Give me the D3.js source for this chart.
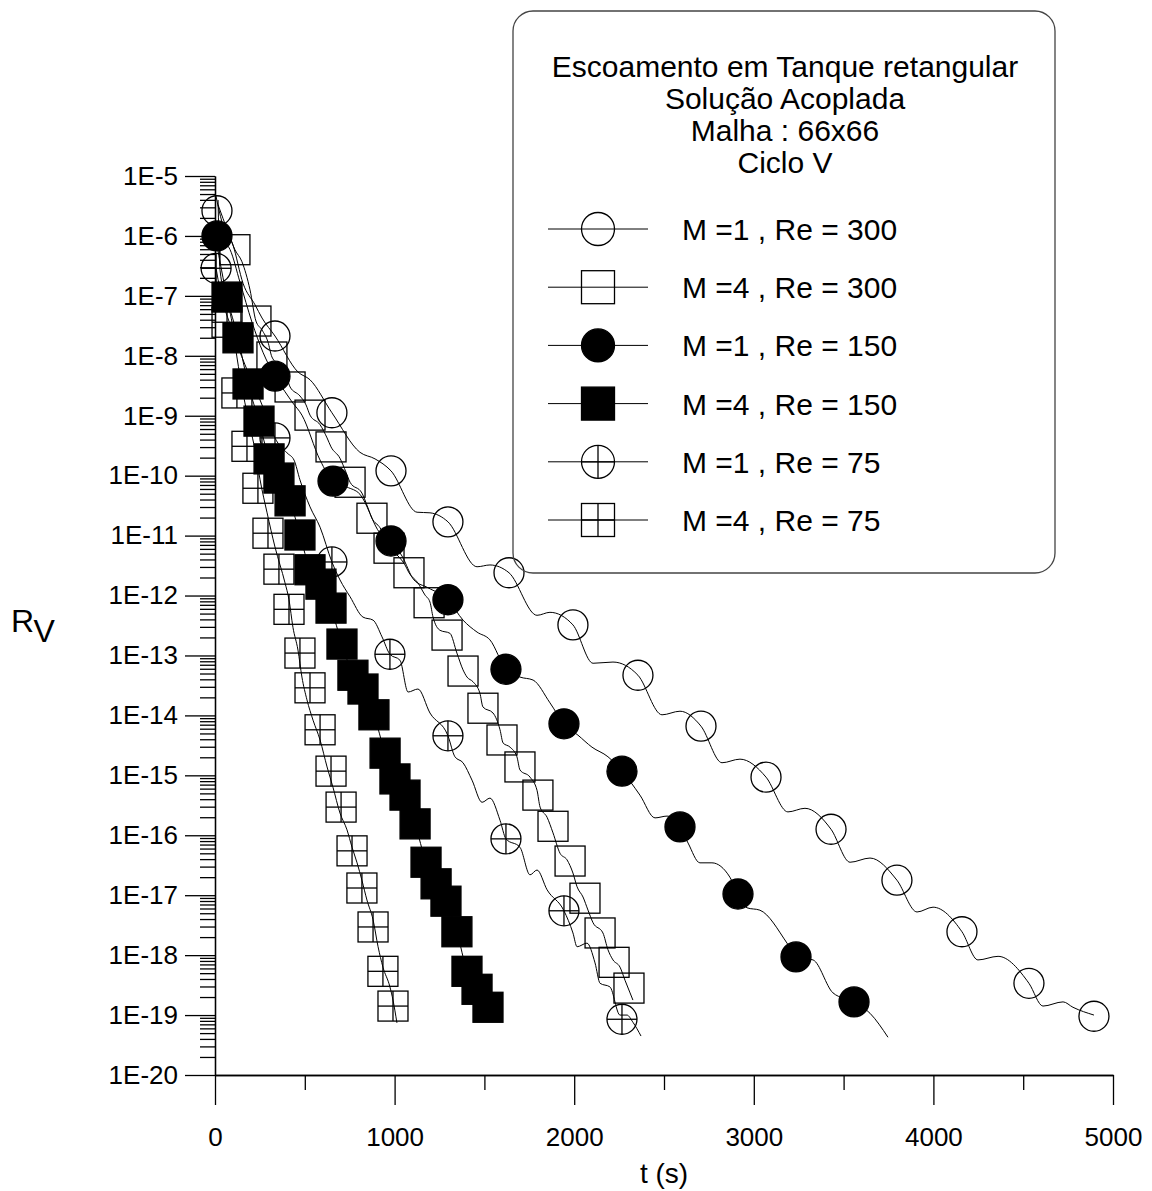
<!DOCTYPE html>
<html>
<head>
<meta charset="utf-8">
<script src="https://cdn.jsdelivr.net/npm/d3@7"></script>
<style>
  body { margin: 0; background: #fff; }
  text { font-family: "Liberation Sans", Arial, sans-serif; fill: #000; }
</style>
</head>
<body>
<div id="chart"></div>
<script>
// values: [t (s), log10(R_V)]
var m1re300Line = [[5,-5.33],[39,-5.77],[100,-6.15],[156,-6.79],[223,-7.15],[262,-7.37],[334,-7.67],[462,-8.27],[529,-8.40],[651,-8.95],[807,-9.61],[891,-9.72],[980,-9.92],[1125,-10.61],[1197,-10.62],[1297,-10.77],[1459,-11.52],[1531,-11.49],[1637,-11.62],[1793,-12.33],[1865,-12.28],[1993,-12.49],[2105,-13.13],[2216,-13.11],[2355,-13.33],[2489,-13.99],[2589,-13.93],[2706,-14.18],[2823,-14.79],[2923,-14.73],[3068,-15.03],[3190,-15.61],[3285,-15.55],[3430,-15.90],[3536,-16.45],[3647,-16.38],[3797,-16.75],[3909,-17.28],[3998,-17.20],[4159,-17.61],[4248,-18.08],[4360,-18.02],[4532,-18.47],[4610,-18.85],[4722,-18.78],[4777,-18.87],[4894,-19.00]];
var m1re300Marks = [[11,-5.58],[334,-7.67],[651,-8.95],[980,-9.92],[1297,-10.77],[1637,-11.62],[1993,-12.49],[2355,-13.33],[2706,-14.18],[3068,-15.03],[3430,-15.90],[3797,-16.75],[4159,-17.61],[4532,-18.47],[4894,-19.02]];

var m4re300Line = [[17,-5.48],[72,-5.93],[111,-6.23],[150,-6.43],[195,-6.90],[228,-7.42],[262,-7.57],[295,-7.77],[317,-8.02],[362,-8.17],[401,-8.37],[418,-8.52],[473,-8.67],[507,-8.82],[529,-8.99],[585,-9.15],[624,-9.37],[646,-9.52],[696,-9.71],[729,-9.94],[752,-10.11],[818,-10.29],[852,-10.54],[874,-10.71],[919,-10.87],[952,-11.07],[969,-11.21],[1019,-11.34],[1058,-11.49],[1080,-11.62],[1130,-11.79],[1169,-11.99],[1197,-12.11],[1214,-12.36],[1253,-12.58],[1308,-12.63],[1347,-12.96],[1381,-13.24],[1403,-13.36],[1437,-13.44],[1475,-13.63],[1492,-13.86],[1548,-13.96],[1587,-14.24],[1604,-14.46],[1643,-14.53],[1681,-14.69],[1698,-14.91],[1754,-15.03],[1793,-15.25],[1810,-15.53],[1849,-15.70],[1882,-15.96],[1921,-16.30],[1960,-16.41],[1993,-16.63],[2016,-16.86],[2049,-17.03],[2077,-17.25],[2105,-17.46],[2160,-17.63],[2188,-17.91],[2216,-18.08],[2255,-18.20],[2283,-18.42],[2311,-18.63],[2327,-18.75]];
var m4re300Marks = [[111,-6.23],[228,-7.42],[317,-8.02],[418,-8.52],[529,-8.99],[646,-9.52],[752,-10.11],[874,-10.71],[969,-11.21],[1080,-11.62],[1192,-12.12],[1292,-12.66],[1381,-13.26],[1492,-13.88],[1598,-14.41],[1698,-14.86],[1798,-15.33],[1882,-15.85],[1977,-16.43],[2060,-17.05],[2144,-17.63],[2222,-18.12],[2305,-18.55]];

var m1re150Line = [[11,-6.00],[84,-6.23],[139,-6.77],[206,-7.44],[267,-7.94],[334,-8.34],[390,-8.60],[429,-8.77],[484,-8.99],[585,-9.74],[657,-10.09],[735,-10.19],[807,-10.31],[919,-10.96],[980,-11.09],[1041,-11.34],[1108,-11.74],[1186,-11.87],[1297,-12.07],[1381,-12.41],[1459,-12.61],[1531,-12.74],[1620,-13.23],[1698,-13.36],[1771,-13.41],[1865,-13.79],[1943,-14.14],[2021,-14.33],[2099,-14.53],[2188,-14.69],[2266,-14.93],[2366,-15.33],[2450,-15.71],[2517,-15.68],[2589,-15.86],[2634,-16.13],[2700,-16.46],[2767,-16.46],[2867,-16.70],[2912,-16.98],[2962,-17.21],[3034,-17.25],[3185,-17.80],[3235,-18.03],[3330,-18.08],[3441,-18.63],[3558,-18.78],[3647,-18.97],[3747,-19.37]];
var m1re150Marks = [[11,-6.00],[334,-8.34],[657,-10.09],[980,-11.09],[1297,-12.07],[1620,-13.23],[1943,-14.14],[2266,-14.93],[2589,-15.86],[2912,-16.98],[3235,-18.03],[3558,-18.78]];

var m4re150Marks = [[67,-7.02],[128,-7.70],[184,-8.47],[245,-9.09],[301,-9.72],[356,-10.04],[418,-10.42],[473,-10.99],[529,-11.57],[590,-11.81],[646,-12.21],[707,-12.81],[768,-13.33],[824,-13.56],[885,-13.99],[947,-14.63],[1002,-15.06],[1058,-15.33],[1114,-15.81],[1175,-16.45],[1231,-16.81],[1286,-17.10],[1347,-17.61],[1403,-18.27],[1459,-18.57],[1520,-18.87]];
var m4re150Line = [[6,-6.07]].concat(m4re150Marks);

var m1re75Line = [[6,-6.54],[28,-6.90],[95,-7.57],[167,-8.15],[239,-8.65],[295,-9.07],[334,-9.37],[401,-9.62],[440,-9.74],[473,-10.07],[529,-10.52],[585,-10.86],[651,-11.44],[696,-11.74],[752,-12.02],[824,-12.36],[880,-12.41],[930,-12.69],[974,-12.98],[1030,-13.08],[1075,-13.61],[1130,-13.56],[1197,-13.96],[1297,-14.34],[1336,-14.69],[1381,-14.79],[1431,-15.08],[1487,-15.45],[1531,-15.38],[1587,-15.75],[1620,-16.06],[1698,-16.20],[1754,-16.66],[1793,-16.58],[1849,-16.91],[1943,-17.26],[1993,-17.63],[2016,-17.86],[2071,-17.80],[2116,-18.13],[2144,-18.47],[2199,-18.53],[2255,-19.00],[2294,-19.00],[2327,-19.12],[2372,-19.35]];
var m1re75Marks = [[6,-6.54],[334,-9.37],[651,-11.44],[974,-12.98],[1297,-14.34],[1620,-16.06],[1943,-17.26],[2266,-19.07]];

var m4re75Line = [[17,-5.40],[28,-6.57],[95,-7.45],[122,-8.02],[156,-8.62],[195,-9.19],[223,-9.57],[251,-10.07],[290,-10.62],[334,-11.19],[390,-11.79],[412,-12.07],[434,-12.53],[462,-12.91],[484,-13.36],[512,-13.74],[546,-14.08],[585,-14.41],[624,-14.86],[657,-15.20],[696,-15.63],[735,-15.91],[763,-16.20],[791,-16.46],[818,-16.75],[846,-17.08],[880,-17.41],[908,-17.86],[935,-18.20],[974,-18.53],[991,-18.75],[1013,-19.13]];
var m4re75Marks = [[67,-7.44],[122,-8.62],[178,-9.51],[239,-10.21],[295,-10.96],[356,-11.56],[412,-12.23],[473,-12.96],[529,-13.54],[585,-14.24],[646,-14.93],[702,-15.53],[763,-16.26],[818,-16.88],[880,-17.53],[935,-18.27],[991,-18.85]];

var legendLabels = ["M =1 , Re = 300", "M =4 , Re = 300", "M =1 , Re = 150", "M =4 , Re = 150", "M =1 , Re = 75", "M =4 , Re = 75"];
var titleLines = ["Escoamento em Tanque retangular", "Solução Acoplada", "Malha : 66x66", "Ciclo V"];
var tTicks = [0, 1000, 2000, 3000, 4000, 5000];
var tMinor = [500, 1500, 2500, 3500, 4500];
var yExps = [-5, -6, -7, -8, -9, -10, -11, -12, -13, -14, -15, -16, -17, -18, -19, -20];

var width = 1152,
    height = 1191;

var svg = d3.select("#chart").append("svg")
    .attr("width", width)
    .attr("height", height);

var x = d3.scaleLinear().domain([0, 5000]).range([215, 1113]);
var y = d3.scaleLog().domain([1e-20, 1e-5]).range([1075, 176]);

function px(d) { return x(d[0]); }
function py(d) { return y(Math.pow(10, d[1])); }

var line = d3.line().x(px).y(py).curve(d3.curveMonotoneX);

var series = [
  {label: legendLabels[0], line: m1re300Line, marks: m1re300Marks, shape: "circle", filled: false, cross: false},
  {label: legendLabels[1], line: m4re300Line, marks: m4re300Marks, shape: "square", filled: false, cross: false},
  {label: legendLabels[2], line: m1re150Line, marks: m1re150Marks, shape: "circle", filled: true, cross: false},
  {label: legendLabels[3], line: m4re150Line, marks: m4re150Marks, shape: "square", filled: true, cross: false},
  {label: legendLabels[4], line: m1re75Line, marks: m1re75Marks, shape: "circle", filled: false, cross: true},
  {label: legendLabels[5], line: m4re75Line, marks: m4re75Marks, shape: "square", filled: false, cross: true}
];

// axes
var yMajor = yExps.map(function(e) { return Math.pow(10, e); });
var yMinor = [];
yExps.slice(1).forEach(function(e) {
  for (var k = 2; k <= 9; k++) yMinor.push(k * Math.pow(10, e));
});

function styleAxis(g) {
  g.selectAll("path, line").attr("stroke", "#000").attr("stroke-width", 1.3);
  g.selectAll("text").style("font-size", "26px").attr("fill", "#000");
}

svg.append("g").attr("transform", "translate(215,0)")
    .call(d3.axisLeft(y).tickValues(yMinor).tickSize(15).tickSizeOuter(0).tickFormat(""))
    .call(styleAxis);
svg.append("g").attr("transform", "translate(215,0)")
    .call(d3.axisLeft(y).tickValues(yMajor).tickSize(30).tickSizeOuter(0).tickPadding(7)
      .tickFormat(function(d, i) { return "1E" + yExps[i]; }))
    .call(styleAxis);

svg.append("g").attr("transform", "translate(0,1075)")
    .call(d3.axisBottom(x).tickValues(tMinor).tickSize(15).tickSizeOuter(0).tickFormat(""))
    .call(styleAxis);
svg.append("g").attr("transform", "translate(0,1075)")
    .call(d3.axisBottom(x).tickValues(tTicks).tickSize(30).tickSizeOuter(0).tickPadding(23)
      .tickFormat(d3.format("d")))
    .call(styleAxis);

svg.append("text")
    .attr("x", 664).attr("y", 1183)
    .attr("text-anchor", "middle")
    .style("font-size", "28px")
    .text("t (s)");

var ylab = svg.append("text").attr("x", 11).attr("y", 632).style("font-size", "32px");
ylab.append("tspan").text("R");
ylab.append("tspan").attr("dy", 10).text("V");

// curves
svg.append("g").selectAll("path")
    .data(series)
    .enter().append("path")
      .attr("d", function(d) { return line(d.line); })
      .attr("fill", "none")
      .attr("stroke", "#000")
      .attr("stroke-width", 1);

function drawMarker(g, s, cx, cy, size) {
  var h = size / 2;
  var el;
  if (s.shape === "circle") {
    el = g.append("circle").attr("cx", cx).attr("cy", cy).attr("r", h);
  } else {
    el = g.append("rect").attr("x", cx - h).attr("y", cy - h).attr("width", size).attr("height", size);
  }
  el.attr("fill", s.filled ? "#000" : "none")
    .attr("stroke", "#000")
    .attr("stroke-width", 1.3);
  if (s.cross) {
    g.append("line").attr("x1", cx - h).attr("x2", cx + h).attr("y1", cy).attr("y2", cy)
      .attr("stroke", "#000").attr("stroke-width", 1.3);
    g.append("line").attr("x1", cx).attr("x2", cx).attr("y1", cy - h).attr("y2", cy + h)
      .attr("stroke", "#000").attr("stroke-width", 1.3);
  }
}

// open markers first, filled ones on top
var order = [5, 4, 1, 0, 3, 2];
var marks = svg.append("g");
order.forEach(function(i) {
  var s = series[i];
  s.marks.forEach(function(d) {
    drawMarker(marks, s, px(d), py(d), 30);
  });
});

// legend
var legend = svg.append("g");
legend.append("rect")
    .attr("x", 513).attr("y", 11)
    .attr("width", 542).attr("height", 562)
    .attr("rx", 20).attr("ry", 20)
    .attr("fill", "none")
    .attr("stroke", "#444")
    .attr("stroke-width", 1.3);

legend.selectAll("text.title")
    .data(titleLines)
    .enter().append("text")
      .attr("class", "title")
      .attr("x", 785)
      .attr("y", function(d, i) { return 77 + i * 32; })
      .attr("text-anchor", "middle")
      .style("font-size", "30px")
      .text(function(d) { return d; });

series.forEach(function(s, i) {
  var cy = 229 + i * 58.2;
  legend.append("line")
      .attr("x1", 548).attr("x2", 648).attr("y1", cy).attr("y2", cy)
      .attr("stroke", "#000").attr("stroke-width", 1);
  drawMarker(legend, s, 598, cy, 33);
  legend.append("text")
      .attr("x", 682).attr("y", cy + 11)
      .style("font-size", "30px")
      .text(s.label);
});
</script>
</body>
</html>
